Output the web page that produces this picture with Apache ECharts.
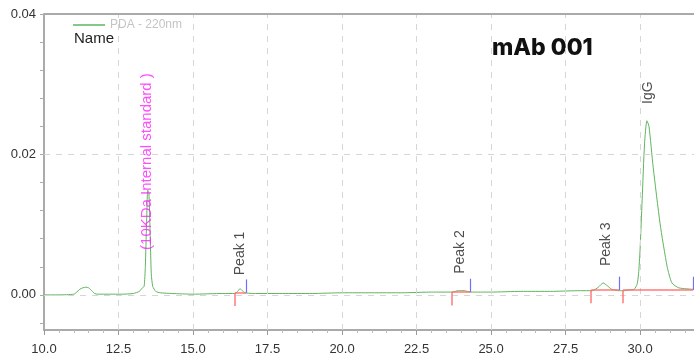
<!DOCTYPE html>
<html>
<head>
<meta charset="utf-8">
<script src="https://cdn.jsdelivr.net/npm/echarts@6/dist/echarts.min.js"></script>
<style>
  html, body { margin: 0; padding: 0; background: #fff; }
  #chart { width: 694px; height: 362px; }
</style>
</head>
<body>
<div id="chart"></div>
<script>
// Retention time (min) and absorbance (AU) of the PDA 220 nm trace
const retentionTimes = [
  10.00, 10.50, 11.00, 11.10, 11.20, 11.30, 11.40, 11.50, 11.60, 11.70, 11.80,
  12.20, 12.60, 13.00, 13.20, 13.30, 13.36, 13.40, 13.44, 13.48, 13.52, 13.56,
  13.60, 13.65, 13.75, 13.90, 14.30, 15.00, 16.00, 16.40, 16.50, 16.58, 16.65,
  16.75, 17.00, 18.00, 19.00, 20.00, 21.00, 22.00, 23.00, 23.70, 23.90, 24.10,
  24.30, 25.00, 26.00, 27.00, 28.00, 28.40, 28.60, 28.76, 28.90, 29.05, 29.30,
  29.45, 29.60, 29.80, 29.90, 29.95, 30.00, 30.07, 30.15, 30.23, 30.30, 30.44,
  30.67, 30.91, 31.07, 31.30, 31.78
];
const absorbance = [
  0.0000, 0.0000, 0.0001, 0.0004, 0.0008, 0.0010, 0.0011, 0.0010, 0.0006, 0.0002, 0.0001,
  0.0001, 0.0001, 0.0002, 0.0005, 0.0010, 0.0012, 0.0040, 0.0100, 0.0149, 0.0145, 0.0090,
  0.0030, 0.0012, 0.0005, 0.0003, 0.0002, 0.0001, 0.0002, 0.0002, 0.0005, 0.0009, 0.0006,
  0.0003, 0.0002, 0.0002, 0.0002, 0.0003, 0.0003, 0.0003, 0.0004, 0.0004, 0.0006, 0.0006,
  0.0004, 0.0004, 0.0005, 0.0005, 0.0006, 0.0006, 0.0011, 0.0017, 0.0013, 0.0008, 0.0006,
  0.0006, 0.0007, 0.0008, 0.0015, 0.0030, 0.0064, 0.0135, 0.0215, 0.0248, 0.0240, 0.0182,
  0.0102, 0.0040, 0.0017, 0.0010, 0.0008
];

// Integration events: peak start / end times and baseline level
const peakStarts = [16.41, 23.69, 28.36, 29.43];
const peakEnds   = [16.78, 24.30, 29.30, 31.78];
const peakBase   = [0.0003, 0.0004, 0.0007, 0.0007];

// Peak annotations (text, time, absorbance at the start of the text)
const peakNames  = ['(10KDa Internal standard )', 'Peak 1', 'Peak 2', 'Peak 3', 'IgG'];
const peakLabelT = [13.46, 16.58, 23.96, 28.86, 30.27];
const peakLabelV = [0.0064, 0.0028, 0.0030, 0.0041, 0.0272];
const peakColors = ['#ff22ff', '#222222', '#222222', '#222222', '#222222'];
const peakSizes  = [15, 14, 14, 14, 14];

// Axis ticks and grid positions
const xGridValues = [12.5, 15, 17.5, 20, 22.5, 25, 27.5, 30];
const yGridValues = [0, 0.02];
const yTopValue = 0.04;
const yLabelValues = [0, 0.02, 0.04];
const yTickValues = [-0.004, 0, 0.004, 0.008, 0.012, 0.016, 0.02, 0.024, 0.028, 0.032, 0.036, 0.04];

const traceData = retentionTimes.map((t, i) => [t, absorbance[i]]);
const tickLen = 0.0019;

// Start ticks hang below the baseline, end ticks rise above it
const startMarks = [];
const endMarks = [];
const baseMarks = [];
const startPoints = [];
const endPoints = [];
peakStarts.forEach((s, i) => {
  const b = peakBase[i];
  const e = peakEnds[i];
  startMarks.push([{ coord: [s, b] }, { coord: [s, b - tickLen] }]);
  endMarks.push([{ coord: [e, b] }, { coord: [e, b + tickLen] }]);
  baseMarks.push([{ coord: [s, b] }, { coord: [e, b] }]);
  startPoints.push([s, b]);
  endPoints.push([e, b]);
});

const labelData = peakNames.map((n, i) => ({
  name: n,
  value: [peakLabelT[i], peakLabelV[i]],
  label: { color: peakColors[i], fontSize: peakSizes[i] }
}));

const gridLines = xGridValues.map(v => ({ xAxis: v })).concat(yGridValues.map(v => ({ yAxis: v })));

const chart = echarts.init(document.getElementById('chart'), null, { renderer: 'canvas' });
const font = '"Liberation Sans", Arial, sans-serif';

chart.setOption({
  animation: false,
  backgroundColor: '#ffffff',
  grid: { left: 44, right: 0, top: 14, bottom: 32, containLabel: false, show: false },
  legend: {
    data: ['PDA - 220nm'],
    left: 68, top: 14,
    icon: 'rect', itemWidth: 32, itemHeight: 1.5, itemGap: 8,
    textStyle: { color: '#c4c4c4', fontSize: 12, fontFamily: font }
  },
  graphic: [
    { type: 'text', left: 74, top: 31, style: { text: 'Name', fill: '#222', font: '15px ' + font } },
    { type: 'text', left: 492, top: 37, style: { text: 'mAb 001', fill: '#111', font: '800 23px Inter, "Open Sans", sans-serif' } }
  ],
  xAxis: {
    type: 'value', min: 10, max: 31.81, interval: 2.5,
    axisLine: { show: true, onZero: false, lineStyle: { color: '#aaaaaa', width: 2 } },
    axisTick: { show: true, length: 5, lineStyle: { color: '#999' } },
    minorTick: { show: true, splitNumber: 5, length: 3, lineStyle: { color: '#bbb' } },
    axisLabel: {
      showMaxLabel: false, margin: 13, color: '#333', fontSize: 13, fontFamily: font,
      formatter: v => v.toFixed(1)
    },
    splitLine: { show: false },
    minorSplitLine: { show: false }
  },
  yAxis: {
    type: 'value', min: -0.005, max: 0.04,
    axisLine: { show: true, onZero: false, lineStyle: { color: '#aaaaaa', width: 2 } },
    axisTick: { show: true, length: 4, customValues: yTickValues, lineStyle: { color: '#aaa' } },
    axisLabel: {
      customValues: yLabelValues, margin: 8, color: '#333', fontSize: 13, fontFamily: font,
      formatter: v => v.toFixed(2)
    },
    splitLine: { show: false }
  },
  series: [
    {
      name: 'PDA - 220nm', type: 'line', data: traceData,
      showSymbol: false, smooth: 0.2,
      lineStyle: { color: '#5fb55f', width: 1 },
      itemStyle: { color: '#5fb55f' },
      markLine: {
        silent: true, symbol: 'none', label: { show: false },
        lineStyle: { color: '#d6d6d6', type: [6, 6], width: 1 },
        data: gridLines.concat([{ yAxis: yTopValue, lineStyle: { color: '#aaaaaa', type: 'solid', width: 2 } }])
      },
      z: 3
    },
    {
      name: 'baseline', type: 'scatter', data: startPoints,
      symbolSize: 0, silent: true,
      markLine: {
        silent: true, symbol: 'none', label: { show: false },
        lineStyle: { color: '#ff6b6b', type: 'solid', width: 1.5, opacity: 0.9 },
        data: baseMarks.concat(startMarks)
      },
      z: 4
    },
    {
      name: 'ends', type: 'scatter', data: endPoints,
      symbolSize: 0, silent: true,
      markLine: {
        silent: true, symbol: 'none', label: { show: false },
        lineStyle: { color: '#6f6fff', type: 'solid', width: 1.2, opacity: 1 },
        data: endMarks
      },
      z: 4
    },
    {
      name: 'labels', type: 'scatter', data: labelData,
      symbolSize: 0, silent: true,
      label: {
        show: true, position: [0, 0], rotate: 90,
        align: 'left', verticalAlign: 'middle',
        fontFamily: font,
        formatter: p => p.name
      },
      z: 5
    }
  ]
});
</script>
</body>
</html>
